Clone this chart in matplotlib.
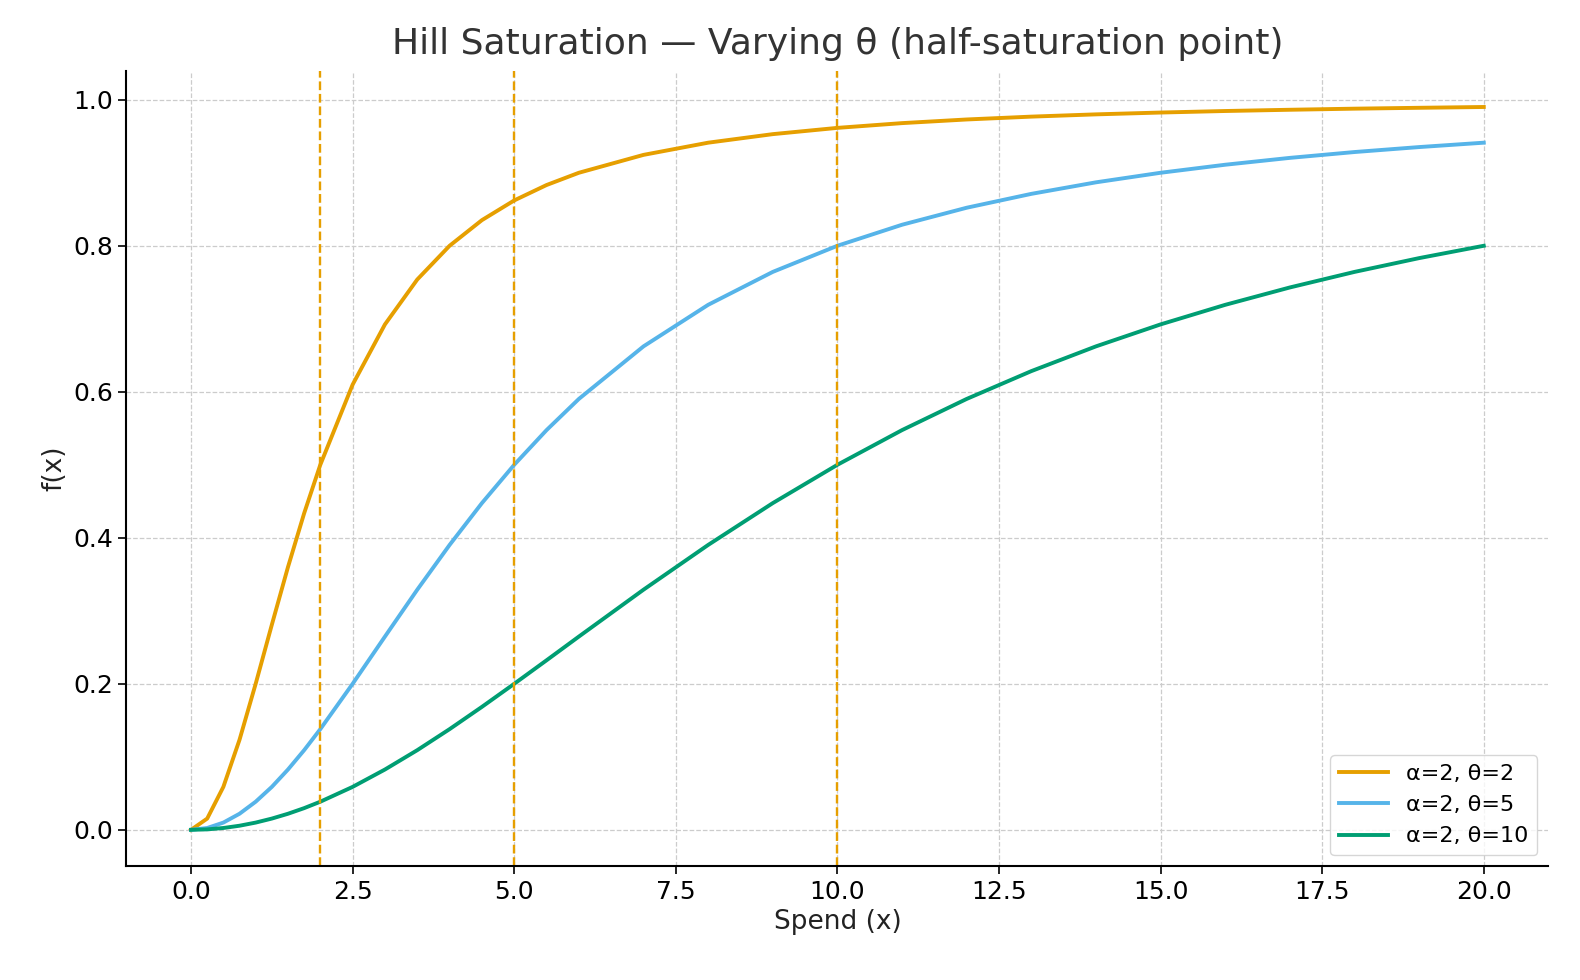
import matplotlib
matplotlib.use("Agg")
import matplotlib.pyplot as plt

x = [0, 0.25, 0.5, 0.75, 1, 1.25, 1.5, 1.75, 2, 2.5, 3, 3.5, 4, 4.5, 5, 5.5, 6,
     7, 8, 9, 10, 11, 12, 13, 14, 15, 16, 17, 18, 19, 20]
y_theta2 = [0, 0.0154, 0.0588, 0.1233, 0.2, 0.2809, 0.36, 0.4336, 0.5, 0.6098, 0.6923,
            0.7538, 0.8, 0.8351, 0.8621, 0.8832, 0.9, 0.9245, 0.9412, 0.9529, 0.9615,
            0.968, 0.973, 0.9769, 0.98, 0.9825, 0.9846, 0.9863, 0.9878, 0.989, 0.9901]
y_theta5 = [0, 0.0025, 0.0099, 0.022, 0.0385, 0.0588, 0.0826, 0.1091, 0.1379, 0.2,
            0.2647, 0.3289, 0.3902, 0.4475, 0.5, 0.5475, 0.5902, 0.6622, 0.7191,
            0.7642, 0.8, 0.8288, 0.8521, 0.8711, 0.8869, 0.9, 0.911, 0.9204, 0.9284,
            0.9352, 0.9412]
y_theta10 = [0, 0.0006, 0.0025, 0.0056, 0.0099, 0.0154, 0.022, 0.0297, 0.0385, 0.0588,
             0.0826, 0.1091, 0.1379, 0.1684, 0.2, 0.2322, 0.2647, 0.3289, 0.3902,
             0.4475, 0.5, 0.5475, 0.5902, 0.6283, 0.6622, 0.6923, 0.7191, 0.7429,
             0.7642, 0.7831, 0.8]
labels = ["α=2, θ=2", "α=2, θ=5", "α=2, θ=10"]
thetas = [2, 5, 10]
colors = ["#E69F00", "#56B4E9", "#009E73"]

fig, ax = plt.subplots(figsize=(15.8, 9.8), dpi=100)
for ys, lab, c in zip([y_theta2, y_theta5, y_theta10], labels, colors):
    ax.plot(x, ys, color=c, lw=2.8, label=lab)
for t in thetas:
    ax.axvline(t, color="#E69F00", ls="--", lw=1.7)

ax.set_title("Hill Saturation — Varying θ (half-saturation point)", fontsize=26,
             color="#333333", pad=12)
ax.set_xlabel("Spend (x)", fontsize=19, color="#222222")
ax.set_ylabel("f(x)", fontsize=19, color="#222222")
ax.tick_params(labelsize=18, length=6, width=1.2)
ax.set_xticks([0, 2.5, 5, 7.5, 10, 12.5, 15, 17.5, 20])
ax.set_xlim(-1, 21)
ax.set_ylim(-0.05, 1.04)
ax.grid(True, ls="--", color="#cccccc", lw=0.9)
for s in ["top", "right"]:
    ax.spines[s].set_visible(False)
ax.spines["left"].set_linewidth(1.5)
ax.spines["bottom"].set_linewidth(1.5)
ax.legend(loc="lower right", fontsize=16, frameon=True, handlelength=2.2)
fig.subplots_adjust(left=0.08, right=0.98, top=0.928, bottom=0.116)
fig.savefig("out.png")
